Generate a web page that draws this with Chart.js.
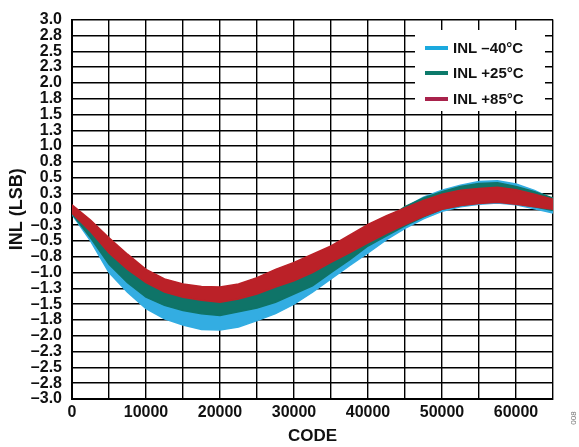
<!DOCTYPE html>
<html>
<head>
<meta charset="utf-8">
<script src="https://cdn.jsdelivr.net/npm/chart.js@4.4.1/dist/chart.umd.min.js"></script>
<style>
  html, body { margin: 0; padding: 0; background: #fff; }
  #wrap { width: 579px; height: 447px; }
</style>
</head>
<body>
<div id="wrap"><canvas id="chart" width="579" height="447"></canvas></div>
<script>
"use strict";
const codes = [0, 2500, 5000, 7500, 10000, 12500, 15000, 17500, 20000, 22500, 25000, 27500, 30000,
    32500, 35000, 37500, 40000, 42500, 45000, 47500, 50000, 52500, 55000, 57500, 60000, 62500, 65000];
// INL -40C band (upper / lower edge, LSB)
const coldUpper = [0.04, -0.30, -0.65, -0.95, -1.20, -1.35, -1.45, -1.50, -1.52, -1.47, -1.38, -1.28, -1.15,
    -0.98, -0.80, -0.60, -0.40, -0.20, 0.03, 0.19, 0.30, 0.38, 0.44, 0.45, 0.40, 0.30, 0.16];
const coldLower = [-0.08, -0.50, -1.00, -1.31, -1.57, -1.73, -1.83, -1.90, -1.91, -1.86, -1.76, -1.65, -1.50,
    -1.31, -1.10, -0.89, -0.69, -0.48, -0.30, -0.15, -0.03, 0.04, 0.08, 0.10, 0.07, 0.01, -0.06];
// INL +25C band
const roomUpper = [0.05, -0.25, -0.55, -0.82, -1.05, -1.20, -1.28, -1.32, -1.34, -1.29, -1.22, -1.10, -0.99,
    -0.85, -0.70, -0.52, -0.33, -0.15, 0.04, 0.18, 0.28, 0.36, 0.41, 0.42, 0.36, 0.28, 0.18];
const roomLower = [-0.07, -0.45, -0.87, -1.16, -1.39, -1.52, -1.60, -1.65, -1.68, -1.62, -1.56, -1.47, -1.34,
    -1.21, -1.00, -0.80, -0.58, -0.42, -0.26, -0.12, 0.00, 0.06, 0.10, 0.12, 0.09, 0.04, -0.02];
// INL +85C band
const hotUpper = [0.07, -0.17, -0.45, -0.71, -0.95, -1.10, -1.18, -1.22, -1.23, -1.18, -1.08, -0.95, -0.84,
    -0.71, -0.58, -0.41, -0.24, -0.10, 0.02, 0.14, 0.24, 0.30, 0.33, 0.35, 0.31, 0.24, 0.16];
const hotLower = [-0.06, -0.35, -0.69, -0.95, -1.16, -1.31, -1.39, -1.44, -1.47, -1.42, -1.34, -1.23, -1.13,
    -1.00, -0.84, -0.69, -0.53, -0.38, -0.24, -0.11, 0.00, 0.06, 0.09, 0.11, 0.08, 0.04, 0.00];

const seriesNames = ["INL \u201340\u00B0C", "INL +25\u00B0C", "INL +85\u00B0C"];
const bandColors = ["#33ADE2", "#0F7468", "#BB2128"];
const legendColors = ["#1BA9DE", "#0D7A6B", "#A8224B"];

const FONT = "'Liberation Sans', Arial, sans-serif";

function pts(ys) {
    return codes.map((c, i) => ({ x: c, y: ys[i] }));
}
function band(upper, lower, idx, order) {
    return [{
        label: seriesNames[idx],
        data: pts(upper),
        borderColor: bandColors[idx],
        borderWidth: 1.5,
        pointRadius: 0,
        fill: false,
        order: order
    }, {
        label: seriesNames[idx] + " low",
        data: pts(lower),
        borderColor: bandColors[idx],
        backgroundColor: bandColors[idx],
        borderWidth: 1.5,
        pointRadius: 0,
        fill: "-1",
        order: order
    }];
}

const legendBox = {
    id: "legendBox",
    afterDatasetsDraw(chart) {
        const c = chart.ctx;
        c.save();
        c.fillStyle = "#fff";
        c.fillRect(415, 30, 130, 81);
        c.font = "bold 15px " + FONT;
        c.textBaseline = "middle";
        const ys = [48, 73, 99];
        for (let i = 0; i < 3; i++) {
            c.strokeStyle = legendColors[i];
            c.lineWidth = 4;
            c.beginPath();
            c.moveTo(425, ys[i]);
            c.lineTo(448, ys[i]);
            c.stroke();
            c.fillStyle = "#111";
            c.fillText(seriesNames[i], 453, ys[i] + 1);
        }
        // figure number in the right margin
        c.translate(574, 418);
        c.rotate(-Math.PI / 2);
        c.font = "8px " + FONT;
        c.fillStyle = "#777";
        c.textAlign = "center";
        c.fillText("008", 0, 0);
        c.restore();
    }
};

new Chart(document.getElementById("chart").getContext("2d"), {
    type: "line",
    data: {
        datasets: [
            ...band(hotUpper, hotLower, 2, 0),
            ...band(roomUpper, roomLower, 1, 1),
            ...band(coldUpper, coldLower, 0, 2)
        ]
    },
    options: {
        responsive: false,
        animation: false,
        layout: { padding: { top: 17, right: 26, left: 0, bottom: 0 } },
        plugins: {
            legend: { display: false },
            tooltip: { enabled: false }
        },
        elements: { line: { tension: 0 } },
        scales: {
            x: {
                type: "linear",
                min: 0,
                max: 65000,
                afterFit: (axis) => { axis.height = 48; },
                ticks: {
                    stepSize: 5000,
                    autoSkip: false,
                    maxRotation: 0,
                    padding: 4,
                    color: "#111",
                    font: { family: FONT, weight: "bold", size: 16 },
                    callback: (v) => (v % 10000 === 0 ? String(v) : "")
                },
                grid: { color: "#000", lineWidth: 1.4, drawTicks: false },
                border: { color: "#000", width: 2 },
                title: {
                    display: true,
                    text: "CODE",
                    color: "#111",
                    font: { family: FONT, weight: "bold", size: 17 },
                    padding: { top: 4, bottom: 0 }
                }
            },
            y: {
                min: -3,
                max: 3,
                afterFit: (axis) => { axis.width = 72; },
                ticks: {
                    stepSize: 0.25,
                    autoSkip: false,
                    padding: 10,
                    color: "#111",
                    font: { family: FONT, weight: "bold", size: 16 },
                    callback: (v) => v.toFixed(1).replace("-", "\u2013")
                },
                grid: { color: "#000", lineWidth: 1.4, drawTicks: false },
                border: { color: "#000", width: 2 },
                title: {
                    display: true,
                    text: "INL (LSB)",
                    color: "#111",
                    font: { family: FONT, weight: "bold", size: 18 },
                    padding: { top: 6, bottom: 2 }
                }
            }
        }
    },
    plugins: [legendBox]
});
</script>
</body>
</html>
